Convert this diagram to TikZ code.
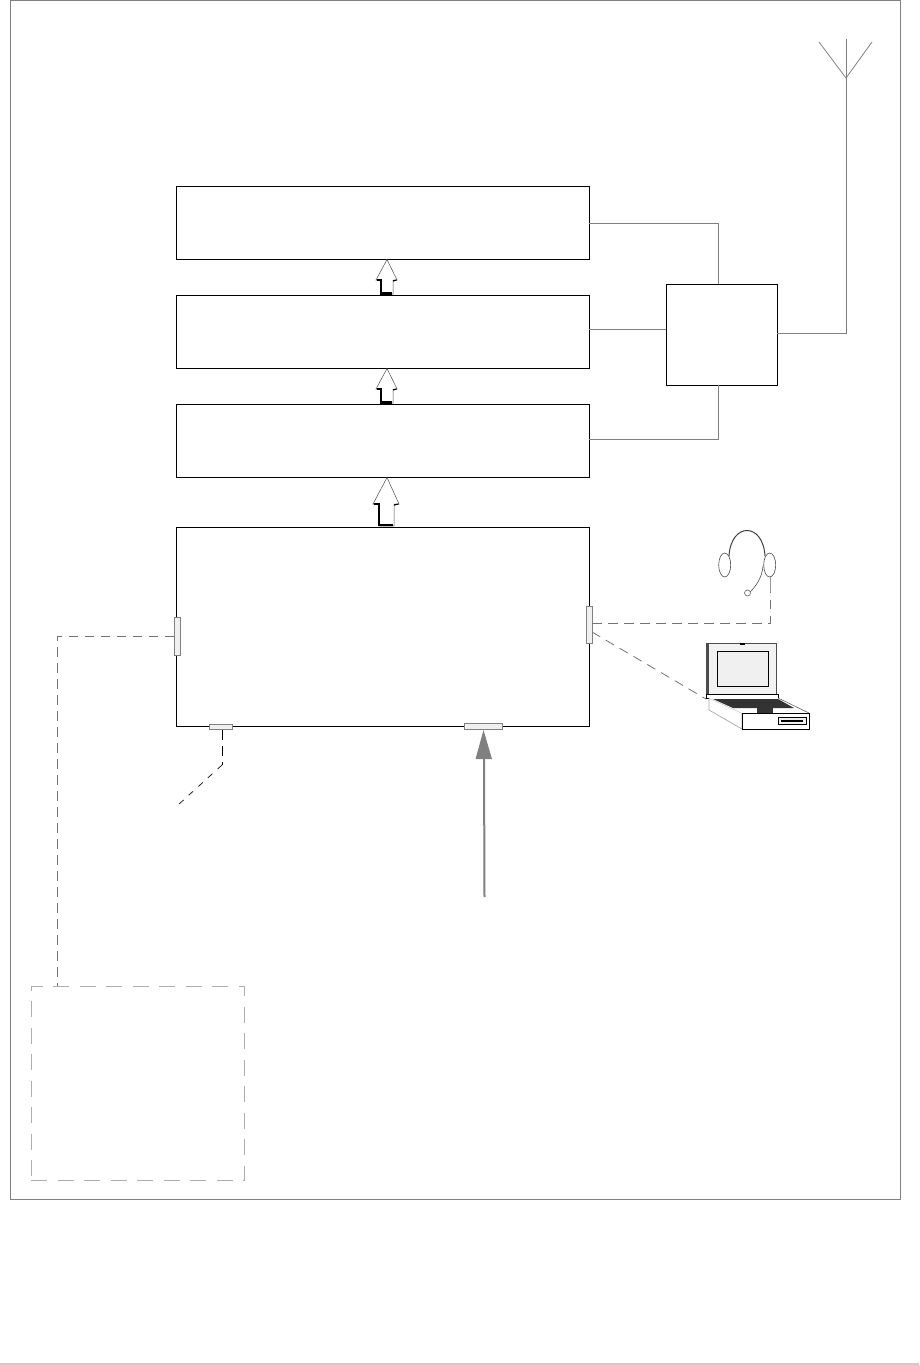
\documentclass[tikz,border=0pt]{standalone}
\begin{document}
\begin{tikzpicture}[x=1pt,y=-1pt,line join=miter,
  blockbox/.style={draw=black,line width=0.9pt,fill=white,inner sep=0pt,outer sep=0pt,anchor=north west},
  portbox/.style={draw=black!50,line width=0.9pt,fill=black!6,inner sep=0pt,outer sep=0pt},
  wire/.style={draw=black!50,line width=0.8pt},
  dashwire/.style={draw=black!55,line width=0.8pt,dash pattern=on 9.5pt off 6.5pt},
  hollowarrow/.style={draw=black!70,line width=0.5pt,fill=white},
  arrowedge/.style={draw=black,line width=1.6pt},
  arrowfoot/.style={draw=black,line width=2.6pt},
  phone/.style={draw=black!70,line width=0.6pt},
]
\useasboundingbox (0,0) rectangle (919,1365);
\fill[black!20] (0,1363) rectangle (919,1365);
\node[draw=black!50,line width=0.9pt,inner sep=0pt,outer sep=0pt,anchor=north west,minimum width=890pt,minimum height=1199pt] (frame) at (10.5,0.5) {};

\node[blockbox,minimum width=412.5pt,minimum height=73pt] (b1) at (176.5,186) {};
\node[blockbox,minimum width=412.5pt,minimum height=73pt] (b2) at (176.5,295) {};
\node[blockbox,minimum width=412.5pt,minimum height=73pt] (b3) at (176.5,404) {};
\node[blockbox,minimum width=412.5pt,minimum height=199pt] (b4) at (176.5,527) {};
\node[blockbox,minimum width=111pt,minimum height=101pt] (rf) at (666,284) {};
\node[draw=black!32,line width=0.8pt,dash pattern=on 16pt off 10.5pt,inner sep=0pt,outer sep=0pt,anchor=north west,minimum width=213.5pt,minimum height=194pt] (ext) at (31,986) {};

\node[portbox,anchor=north west,minimum width=6pt,minimum height=38pt] (pl) at (174,617) {};
\node[portbox,anchor=north west,minimum width=6pt,minimum height=37pt] (pr) at (586,606) {};
\node[portbox,anchor=north west,minimum width=23.5pt,minimum height=5pt] (pb1) at (209,724.5) {};
\node[portbox,anchor=north west,minimum width=38pt,minimum height=6pt] (pb2) at (464,723.5) {};

% antenna and radio wires
\coordinate (a1) at (589,223); \coordinate (a2) at (718.5,223);
\coordinate (a3) at (589,329); \coordinate (a4) at (666,329);
\coordinate (a5) at (589,439); \coordinate (a6) at (718.5,439);
\coordinate (a7) at (777,333); \coordinate (a8) at (846.5,333);
\coordinate (mast) at (846.5,39); \coordinate (fork) at (846,78);
\coordinate (fl) at (819,42); \coordinate (fr) at (872,42);
\draw[wire] (a1) -- (a2) -- (a2 |- rf.north);
\draw[wire] (a3) -- (a4);
\draw[wire] (a5) -- (a6) -- (a6 |- rf.south);
\draw[wire] (a7) -- (a8) -- (mast);
\draw[wire] (fl) -- (fork) -- (fr);

% block arrows
\draw[hollowarrow] (387,259.5) -- (397,280) -- (393,280) -- (393,294) -- (381,294) -- (381,280) -- (376,280) -- cycle;
\draw[arrowedge] (376.5,280) -- (381,280) -- (381,293);
\draw[arrowfoot] (380,293.5) -- (392,293.5);
\draw[arrowedge,line width=1.2pt] (393,281) -- (396.5,280);
\draw[hollowarrow] (387,368.5) -- (397,389) -- (393,389) -- (393,403) -- (381,403) -- (381,389) -- (376,389) -- cycle;
\draw[arrowedge] (376.5,389) -- (381,389) -- (381,402);
\draw[arrowfoot] (380,402.5) -- (392,402.5);
\draw[arrowedge,line width=1.2pt] (393,390) -- (396.5,389);
\draw[hollowarrow] (387,477.5) -- (399,504) -- (394,504) -- (394,526) -- (379,526) -- (379,504) -- (373,504) -- cycle;
\draw[arrowedge] (374,504) -- (379,504) -- (379,525);
\draw[arrowfoot] (378,525) -- (393,525);
\draw[arrowedge,line width=1.2pt] (394,505) -- (398.5,504);

% grey supply arrow
\coordinate (supply) at (484.5,897);
\coordinate (sbase) at (484,757);
\draw[draw=black!50,line width=2pt] (supply) -- (sbase);
\fill[black!50] (483.5,730) -- ++(8.5,29) -- ++(-16.5,0) -- cycle;

% dashed links
\coordinate (d1) at (174,636); \coordinate (d2) at (57,636); \coordinate (d3) at (57,986);
\draw[dashwire] (d1) -- (d2) -- (d3);
\coordinate (e1) at (222,730); \coordinate (e2) at (222,765); \coordinate (e3) at (178,805);
\draw[dashwire,draw=black] (e1) -- (e2);
\draw[draw=black!85,line width=0.8pt,dash pattern=on 6pt off 7pt] (e2) -- (e3);
\coordinate (f1) at (592,623); \coordinate (f2) at (770,623); \coordinate (f3) at (770,577);
\draw[dashwire] (f1) -- (f2) -- (770,592);
\draw[draw=black!40,line width=0.8pt] (770,592) -- (f3);
\coordinate (g1) at (592,632); \coordinate (g2) at (706,699);
\draw[dashwire] (g1) -- (g2);

% headset
\draw[phone] (724.7,565) ellipse[x radius=6pt,y radius=12pt];
\draw[phone] (769.7,565) ellipse[x radius=6pt,y radius=12pt];
\draw[black!75,line width=1pt] (729,556) .. controls (731,522) and (763,522) .. (765,556);
\draw[phone] (763,566) .. controls (762,578) and (756,586) .. (750,592);
\draw[black!60,line width=0.6pt,fill=white] (747.5,593) circle[radius=3pt];

% laptop
\draw[black!70,line width=0.6pt,fill=black!5] (706,643.5) rectangle (776,694);
\fill[black!70] (706,643.5) rectangle (708.5,694);
\fill[black] (740,642.5) rectangle (745,645);
\draw[black,line width=0.9pt,fill=black!6] (717.5,651.5) rectangle (768,686);
\draw[black,line width=0.6pt,fill=white] (706,694) rectangle (778,698);
\draw[black!35,line width=0.7pt,fill=white] (709,698) -- (709,710) -- (742,729) -- (742,713) -- cycle;
\fill[white] (709,698) -- (778,698) -- (809,713) -- (742,713) -- cycle;
\draw[black!60,line width=0.6pt] (778,698) -- (809,713);
\fill[black!80] (713,699) -- (778,699) -- (794,708) -- (733,708) -- cycle;
\fill[black!80] (757,708) rectangle (773,713);
\draw[black,line width=0.9pt,fill=white] (742,713) rectangle (809.5,729);
\draw[black,line width=0.8pt,fill=black!6] (778,717.5) rectangle (806,724);
\draw[black,line width=1.2pt] (781,721) -- (803,721);
\end{tikzpicture}
\end{document}
